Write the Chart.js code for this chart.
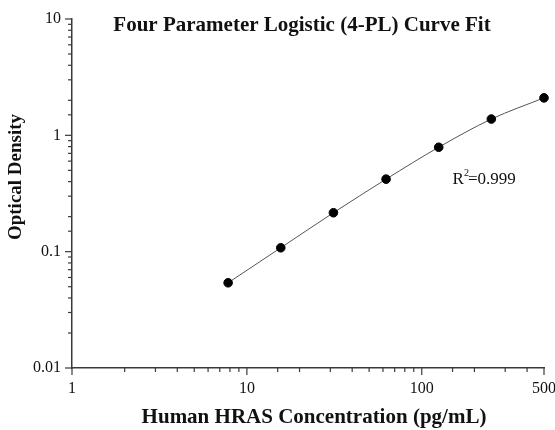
<!DOCTYPE html>
<html>
<head>
<meta charset="utf-8">
<script src="https://cdn.jsdelivr.net/npm/chart.js@4"></script>
<style>
  html, body { margin: 0; padding: 0; background: #fff; }
  #wrap { width: 555px; height: 430px; }
</style>
</head>
<body>
<div id="wrap"><canvas id="curveChart" width="555" height="430"></canvas></div>
<script>
// standard concentrations (pg/mL) and measured OD
const concentrations = [7.8125, 15.625, 31.25, 62.5, 125, 250, 500];
const odValues = [0.054, 0.108, 0.216, 0.42, 0.79, 1.38, 2.1];
const xTickLabels = [1, 10, 100, 500];
const yTickLabels = [0.01, 0.1, 1, 10];

const chartTitle = "Four Parameter Logistic (4-PL) Curve Fit";
const xTitle = "Human HRAS Concentration (pg/mL)";
const yTitle = "Optical Density";
const r2Text = { x: 150, y: 0.42, label: "R", sup: "2", rest: "=0.999" };

const serif = "'Liberation Serif', 'Times New Roman', serif";
const axisColor = "#3a3a3a";

function isLabelled(v, list) {
  return list.some(function (t) { return Math.abs(v - t) / t < 1e-6; });
}

function isDecade(v) {
  let m = v / Math.pow(10, Math.floor(Math.log10(v) + 1e-9));
  return Math.abs(m - 1) < 1e-6;
}

const extrasPlugin = {
  id: "extras",
  afterDraw: function (chart) {
    const ctx = chart.ctx;
    const area = chart.chartArea;
    const xs = chart.scales.x;
    const ys = chart.scales.y;
    ctx.save();
    ctx.strokeStyle = axisColor;
    ctx.lineWidth = 1.2;
    // tick marks, longer at decades and labelled values
    xs.ticks.forEach(function (t) {
      let px = xs.getPixelForValue(t.value);
      let len = (isDecade(t.value) || isLabelled(t.value, xTickLabels)) ? 7 : 4;
      ctx.beginPath();
      ctx.moveTo(px, area.bottom);
      ctx.lineTo(px, area.bottom + len);
      ctx.stroke();
    });
    ys.ticks.forEach(function (t) {
      let py = ys.getPixelForValue(t.value);
      let len = isDecade(t.value) ? 7 : 4;
      ctx.beginPath();
      ctx.moveTo(area.left, py);
      ctx.lineTo(area.left - len, py);
      ctx.stroke();
    });

    ctx.fillStyle = "#111";
    // chart title
    ctx.font = "bold 21px " + serif;
    ctx.textAlign = "center";
    ctx.textBaseline = "middle";
    ctx.fillText(chartTitle, 302, 26);
    // x title
    ctx.fillText(xTitle, 314, 418);
    // y title
    ctx.font = "bold 19px " + serif;
    ctx.save();
    ctx.translate(16, 177);
    ctx.rotate(-Math.PI / 2);
    ctx.fillText(yTitle, 0, 0);
    ctx.restore();

    // R squared note
    let rx = xs.getPixelForValue(r2Text.x);
    let ry = ys.getPixelForValue(r2Text.y);
    ctx.textAlign = "left";
    ctx.textBaseline = "alphabetic";
    ctx.font = "17px " + serif;
    ctx.fillText(r2Text.label, rx, ry + 5);
    let w = ctx.measureText(r2Text.label).width;
    ctx.font = "10px " + serif;
    ctx.fillText(r2Text.sup, rx + w, ry - 3);
    let w2 = ctx.measureText(r2Text.sup).width;
    ctx.font = "17px " + serif;
    ctx.fillText(r2Text.rest, rx + w + w2 - 1, ry + 5);
    ctx.restore();
  }
};

const ctx = document.getElementById("curveChart").getContext("2d");
const myChart = new Chart(ctx, {
  type: "line",
  data: {
    datasets: [
      {
        label: "Standard",
        data: concentrations.map(function (c, i) { return { x: c, y: odValues[i] }; }),
        borderColor: "#555",
        borderWidth: 1,
        pointBackgroundColor: "#000",
        pointBorderColor: "#000",
        pointRadius: 4.3,
        cubicInterpolationMode: "monotone",
        fill: false,
        clip: false
      }
    ]
  },
  options: {
    responsive: false,
    animation: false,
    layout: { padding: { top: 19, right: 11, left: 0, bottom: 0 } },
    plugins: {
      legend: { display: false },
      title: { display: false },
      tooltip: { enabled: false }
    },
    scales: {
      x: {
        type: "logarithmic",
        min: 1,
        max: 500,
        grid: { display: false, drawTicks: true, tickLength: 5 },
        border: { display: true, color: axisColor, width: 1.5 },
        ticks: {
          autoSkip: false,
          maxRotation: 0,
          padding: 6,
          color: "#111",
          font: { family: serif, size: 16 },
          callback: function (v) {
            return isLabelled(v, xTickLabels) ? String(+(+v).toPrecision(3)) : "";
          }
        },
        afterFit: function (scale) {
          scale.height = 62;
          scale.paddingLeft = 0;
          scale.paddingRight = 0;
        }
      },
      y: {
        type: "logarithmic",
        min: 0.01,
        max: 10,
        grid: { display: false, drawTicks: true, tickLength: 5 },
        border: { display: true, color: axisColor, width: 1.5 },
        ticks: {
          autoSkip: false,
          padding: 6,
          color: "#111",
          font: { family: serif, size: 16 },
          callback: function (v) {
            return isLabelled(v, yTickLabels) ? String(+(+v).toPrecision(3)) : "";
          }
        },
        afterFit: function (scale) {
          scale.width = 72;
          scale.paddingTop = 0;
          scale.paddingBottom = 0;
        }
      }
    }
  },
  plugins: [extrasPlugin]
});
</script>
</body>
</html>
